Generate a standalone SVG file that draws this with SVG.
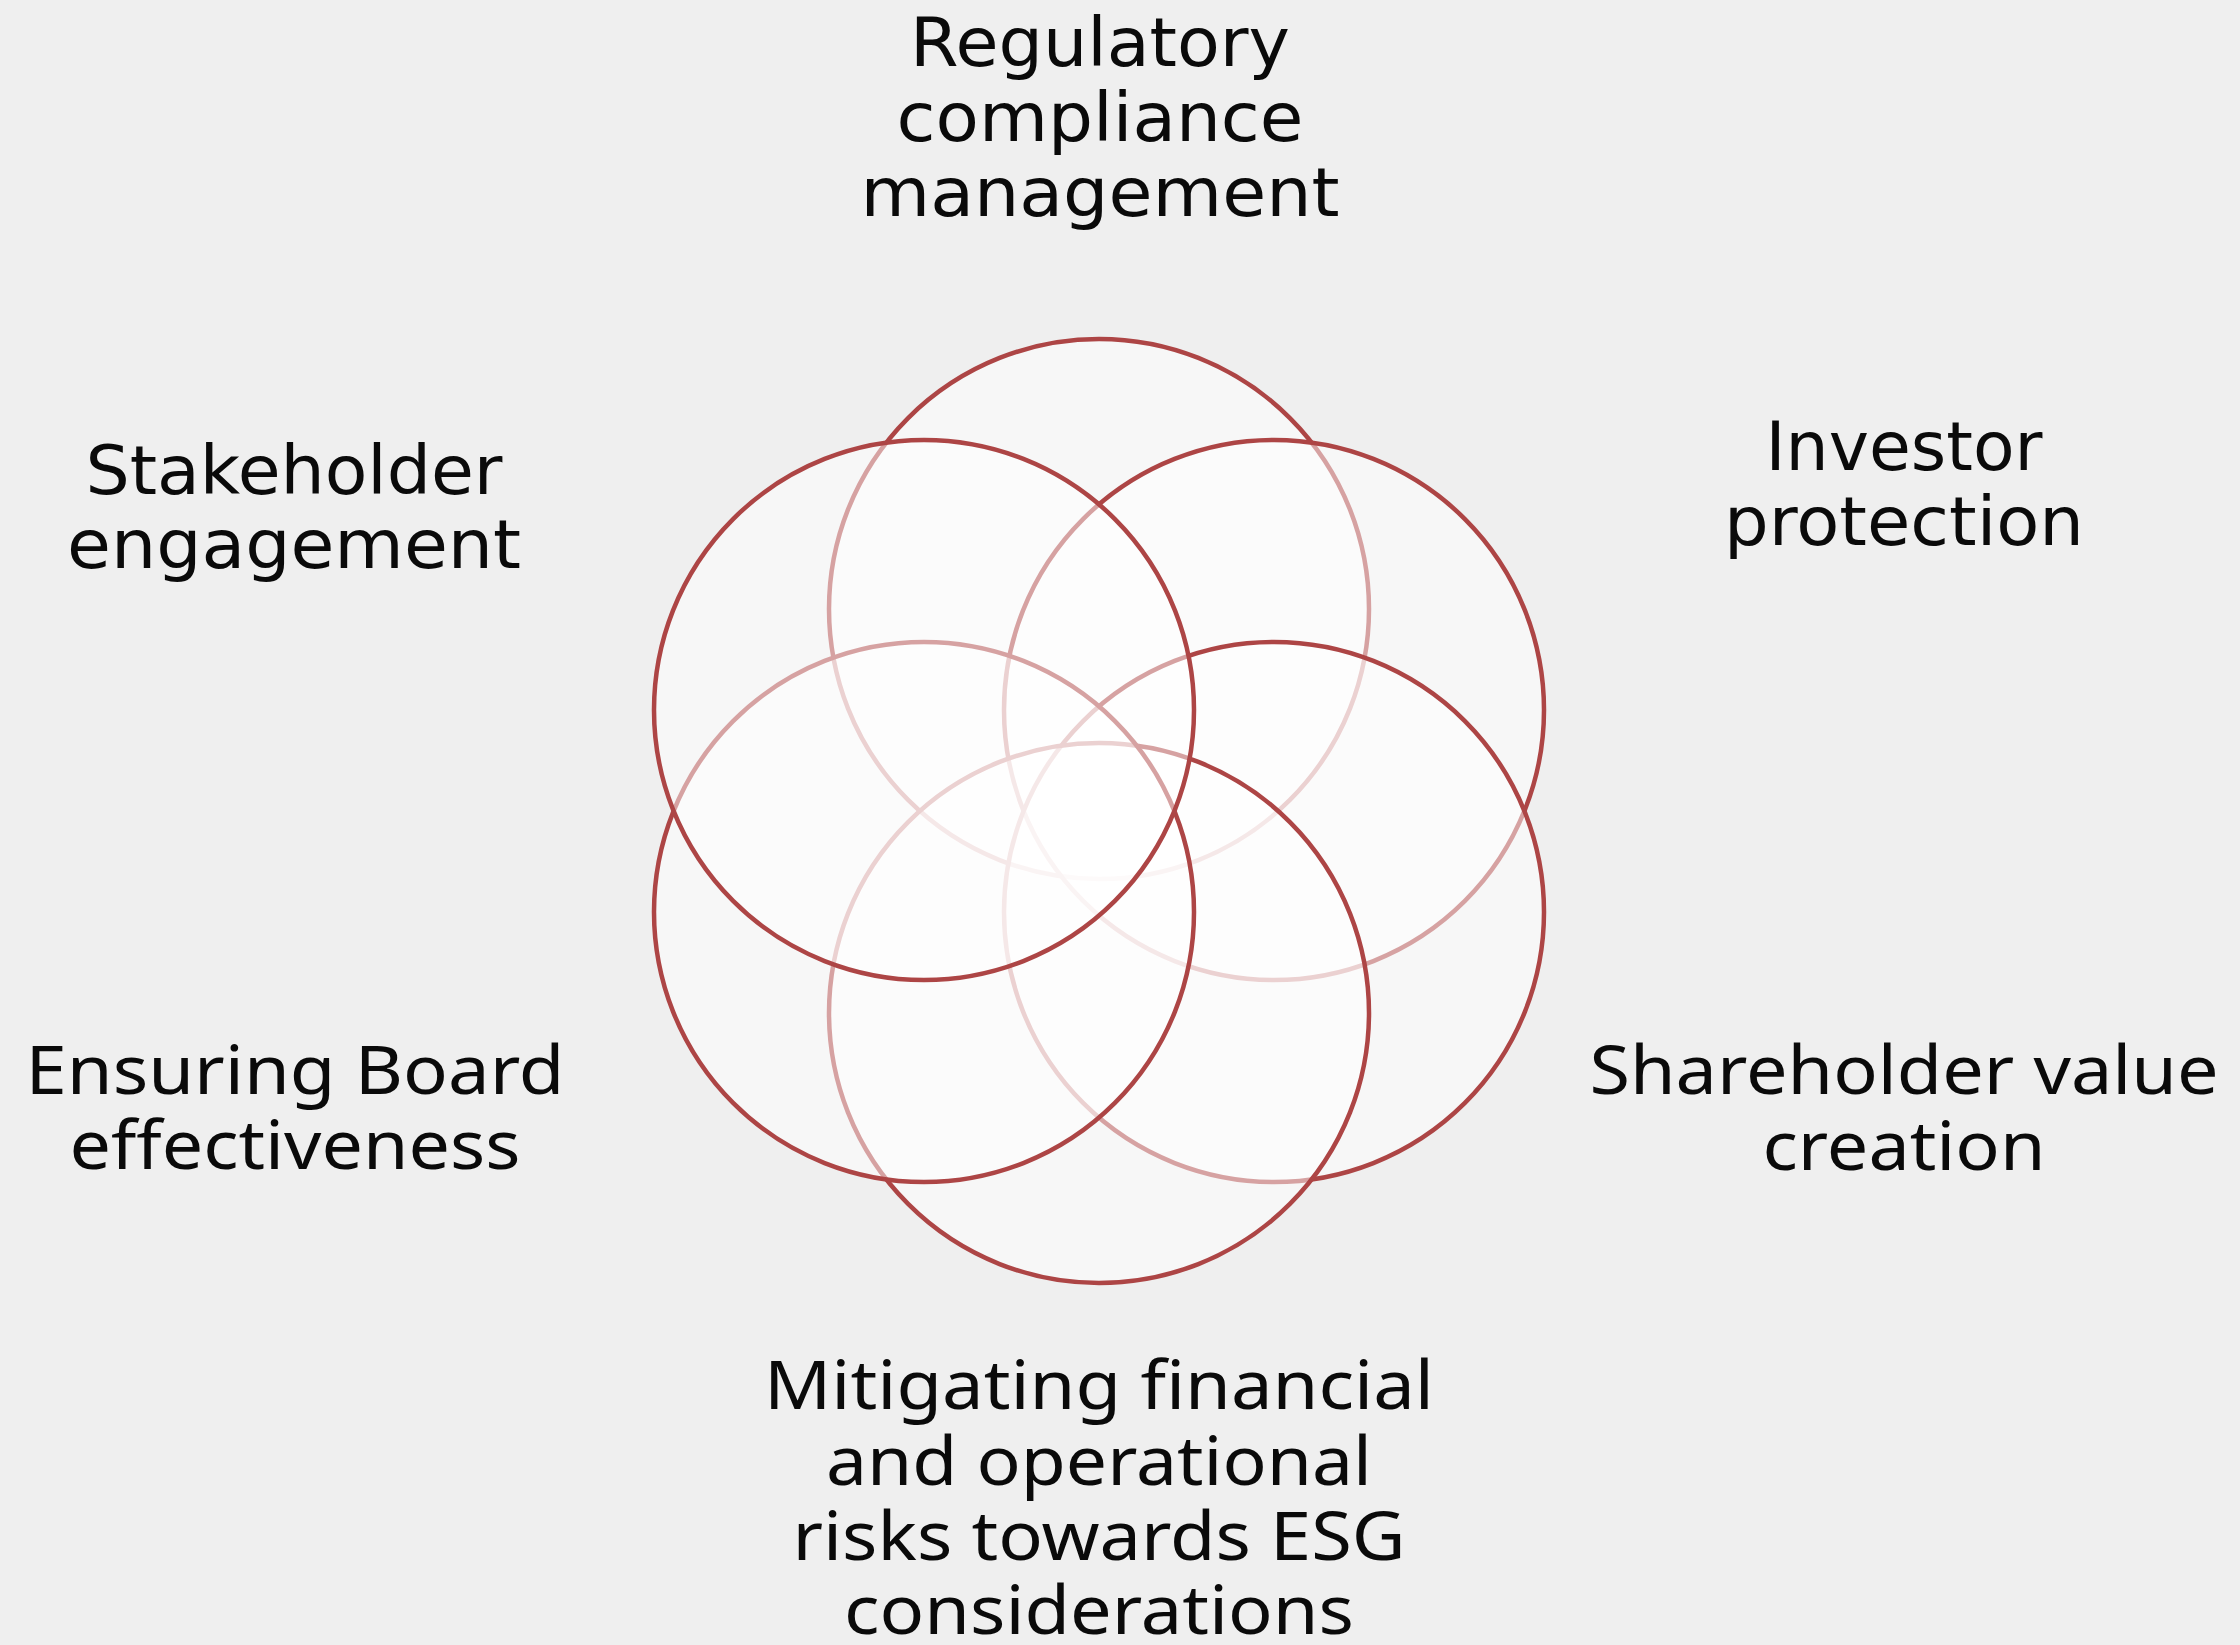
<svg xmlns="http://www.w3.org/2000/svg" width="2240" height="1645" viewBox="0 0 2240 1645">
<style>
.c{fill:#ffffff;fill-opacity:0.5;stroke:#ad4545;stroke-width:4.5}
.g{font-family:"DejaVu Sans","Liberation Sans",sans-serif;font-size:68px;fill:#0a0a0a;text-anchor:middle}
.h{font-family:"Noto Sans","Open Sans",sans-serif;font-size:68px;fill:#0a0a0a;text-anchor:middle}
</style>
<rect x="0" y="0" width="2240" height="1645" fill="#efefef"/>
<g id="node-regulatory">
<circle class="c" cx="1099" cy="609" r="270"/>
<text class="g" x="1100" y="66" textLength="380" lengthAdjust="spacingAndGlyphs">Regulatory</text>
<text class="g" x="1100" y="141" textLength="407" lengthAdjust="spacingAndGlyphs">compliance</text>
<text class="g" x="1100" y="216" textLength="479" lengthAdjust="spacingAndGlyphs">management</text>
</g>
<g id="node-investor">
<circle class="c" cx="1274" cy="710" r="270"/>
<text class="g" x="1904" y="470" textLength="277" lengthAdjust="spacingAndGlyphs">Investor</text>
<text class="g" x="1904" y="545" textLength="360" lengthAdjust="spacingAndGlyphs">protection</text>
</g>
<g id="node-shareholder">
<circle class="c" cx="1274" cy="912" r="270"/>
<text class="h" x="1904" y="1094" textLength="629" lengthAdjust="spacingAndGlyphs">Shareholder value</text>
<text class="h" x="1904" y="1170" textLength="283" lengthAdjust="spacingAndGlyphs">creation</text>
</g>
<g id="node-mitigating">
<circle class="c" cx="1099" cy="1013" r="270"/>
<text class="h" x="1099" y="1409" textLength="670" lengthAdjust="spacingAndGlyphs">Mitigating financial</text>
<text class="h" x="1099" y="1485" textLength="546" lengthAdjust="spacingAndGlyphs">and operational</text>
<text class="h" x="1099" y="1560" textLength="613" lengthAdjust="spacingAndGlyphs">risks towards ESG</text>
<text class="h" x="1099" y="1634" textLength="510" lengthAdjust="spacingAndGlyphs">considerations</text>
</g>
<g id="node-board">
<circle class="c" cx="924" cy="912" r="270"/>
<text class="h" x="295" y="1094" textLength="539" lengthAdjust="spacingAndGlyphs">Ensuring Board</text>
<text class="h" x="295" y="1169" textLength="451" lengthAdjust="spacingAndGlyphs">effectiveness</text>
</g>
<g id="node-stakeholder">
<circle class="c" cx="924" cy="710" r="270"/>
<text class="g" x="294" y="494" textLength="417" lengthAdjust="spacingAndGlyphs">Stakeholder</text>
<text class="g" x="294" y="568" textLength="454" lengthAdjust="spacingAndGlyphs">engagement</text>
</g>
<g id="connectors"/>
</svg>
